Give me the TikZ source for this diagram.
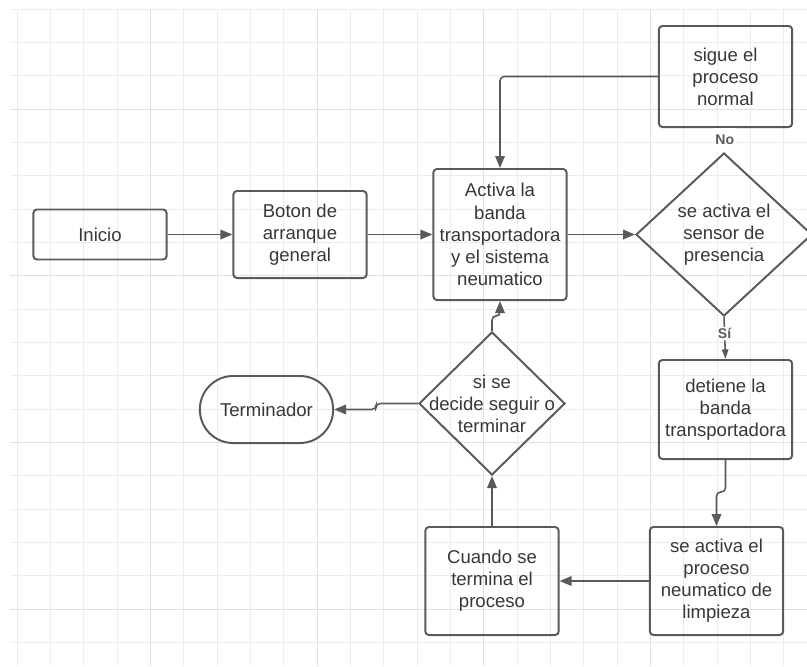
\documentclass[tikz,border=0pt]{standalone}
\usepackage{fontspec}
\setmainfont{Liberation Sans}
\usepackage{xcolor}
\usepackage{tikz}
\usetikzlibrary{shapes.geometric,arrows.meta}
\definecolor{linea}{RGB}{90,90,90}
\definecolor{texto}{RGB}{55,55,55}
\definecolor{rejilla}{RGB}{236,236,236}
\definecolor{rejillaf}{RGB}{224,224,224}

\begin{document}
\begin{tikzpicture}[x=0.025cm,y=-0.025cm,
		caja/.style={draw=linea,line width=1.4pt,rounded corners=2.5pt,text=texto,align=center,
			font=\fontsize{13.2}{15.7}\selectfont,minimum width=3.33cm,inner sep=0pt},
		rombo/.style={diamond,draw=linea,line width=1.4pt,text=texto,align=center,
			font=\fontsize{13.2}{15.7}\selectfont,inner sep=0pt},
		flecha/.style={draw=linea,line width=1.1pt,rounded corners=3pt,-{Triangle[length=0.3cm,width=0.24cm]}},
		etiqueta/.style={fill=white,text=linea,font=\bfseries\fontsize{10}{12}\selectfont,inner sep=1pt}]
			\useasboundingbox (0,0) rectangle (807,666);
			% Cuadricula
			\foreach \k in {0,...,23}
			\draw [rejilla,line width=0.6pt] (17+\k*33.33,9)--(17+\k*33.33,666);
			\foreach \k in {0,...,19}
			\draw [rejilla,line width=0.6pt] (10,9+\k*33.33)--(807,9+\k*33.33);
			\foreach \k in {4,9,14,19}
			\draw [rejillaf,line width=0.6pt] (17+\k*33.33,9)--(17+\k*33.33,666);
			\foreach \k in {3,8,13,18}
			\draw [rejillaf,line width=0.6pt] (10,9+\k*33.33)--(807,9+\k*33.33);
			% Nodos
			\node [caja,minimum height=1.25cm] (ini) at (100,234.5) {Inicio};
			\node [caja,minimum height=2.175cm] (boton) at (300,234.5) {Boton de\\arranque\\general};
			\node [caja,minimum height=3.275cm] (activa) at (500,234.5) {Activa la\\banda\\transportadora\\y el sistema\\neumatico};
			\node [rombo,minimum width=4.4cm,minimum height=4.075cm] (sensor) at (724,234.5) {se activa el\\sensor de\\presencia};
			\node [caja,minimum height=2.525cm] (sigue) at (725.5,76.5) {sigue el\\proceso\\normal};
			\node [caja,minimum height=2.475cm] (detiene) at (725.5,409.5) {detiene la\\banda\\transportadora};
			\node [caja,minimum height=2.7cm] (limpieza) at (716.5,581) {se activa el\\proceso\\neumatico de\\limpieza};
			\node [caja,minimum height=2.7cm] (cuando) at (492,581) {Cuando se\\termina el\\proceso};
			\node [rombo,inner sep=-0.32cm,minimum width=3.65cm,minimum height=3.575cm] (decide) at (492,403.5) {si se\\decide seguir o\\terminar};
			\node [caja,minimum height=1.675cm,rounded corners=0.83cm] (term) at (266.5,409.5) {Terminador};
			% Conectores
			\draw [flecha] (ini) -- (boton);
			\draw [flecha] (boton) -- (activa);
			\draw [flecha] (activa) -- (sensor);
			\draw [flecha] (sigue.west) -| (activa.north);
			\draw [draw=linea,line width=1.1pt] (sensor.north) -- node [etiqueta,minimum height=0.58cm] {No} (sigue.south);
			\draw [flecha,-{Triangle[length=0.24cm,width=0.16cm]}] (sensor.south) -- node [etiqueta,pos=0.4] {Sí} (detiene.north);
			\draw [flecha] (detiene.south) -- ++(0,32) -| (limpieza.north);
			\draw [flecha] (limpieza) -- (cuando);
			\draw [flecha] (cuando) -- (decide);
			\draw [flecha] (decide.north) -- ++(0,-15) -| (activa.south);
			\draw [flecha] (decide.west) -- ++(-42,0) |- (term.east);
		\end{tikzpicture}
\end{document}
